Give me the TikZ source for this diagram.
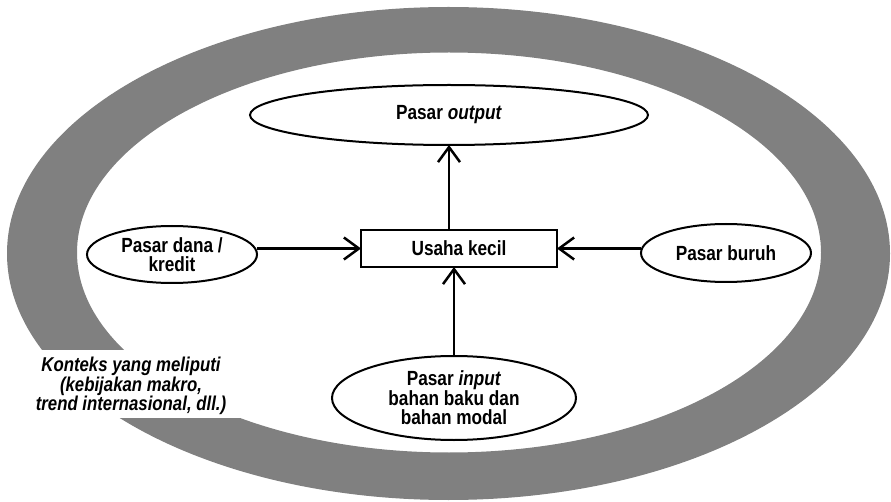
\documentclass[tikz,border=0pt]{standalone}
\usepackage{fontspec}
\setmainfont{Liberation Sans}[FakeStretch=0.84]
\usetikzlibrary{shapes.geometric,arrows.meta}
\definecolor{ringgray}{HTML}{808080}
\begin{document}
\begin{tikzpicture}[x=1bp,y=-1bp,
  every node/.style={font=\fontsize{20.5bp}{19.5bp}\selectfont\bfseries, inner sep=0pt, outer sep=0pt},
  oval/.style={ellipse, draw=black, line width=2bp, fill=white, align=center},
  box/.style={rectangle, draw=black, line width=2.2bp, fill=white},
  ctx/.style={font=\fontsize{20bp}{18.5bp}\selectfont\bfseries\itshape, align=center},
  arr/.style={line width=2.5bp, -{Straight Barb[length=15bp,width=22bp,line width=2.5bp]}}]
\useasboundingbox (0,0) rectangle (891,502);
\fill[ringgray, even odd rule] (448.5,253.5) ellipse [x radius=441.5, y radius=246.5]
  (449,252.5) ellipse [x radius=372, y radius=200];
\fill[white] (0,350) rectangle (310,418);
\node[ctx] (context) at (131,386) {Konteks yang meliputi\\(kebijakan makro,\\trend internasional, dll.)};
\node[oval, minimum width=398bp, minimum height=60bp] (output) at (449,115) {Pasar \textit{output}};
\node[box, minimum width=196bp, minimum height=37bp] (usaha) at (459,248.5) {Usaha kecil};
\node[oval, minimum width=170bp, minimum height=57bp] (dana) at (172,254.5) {Pasar dana /\\kredit};
\node[oval, minimum width=170bp, minimum height=58bp] (buruh) at (726,253) {Pasar buruh};
\node[oval, minimum width=244bp, minimum height=84bp] (input) at (454,398) {Pasar \textit{input}\\bahan baku dan\\bahan modal};
\draw[arr] (usaha.north -| output.south) -- (output.south);
\draw[arr] (input.north) -- (input.north |- usaha.south);
\draw[arr] (dana.east |- usaha.west) -- (usaha.west);
\draw[arr] (buruh.west |- usaha.east) -- (usaha.east);
\end{tikzpicture}
\end{document}
